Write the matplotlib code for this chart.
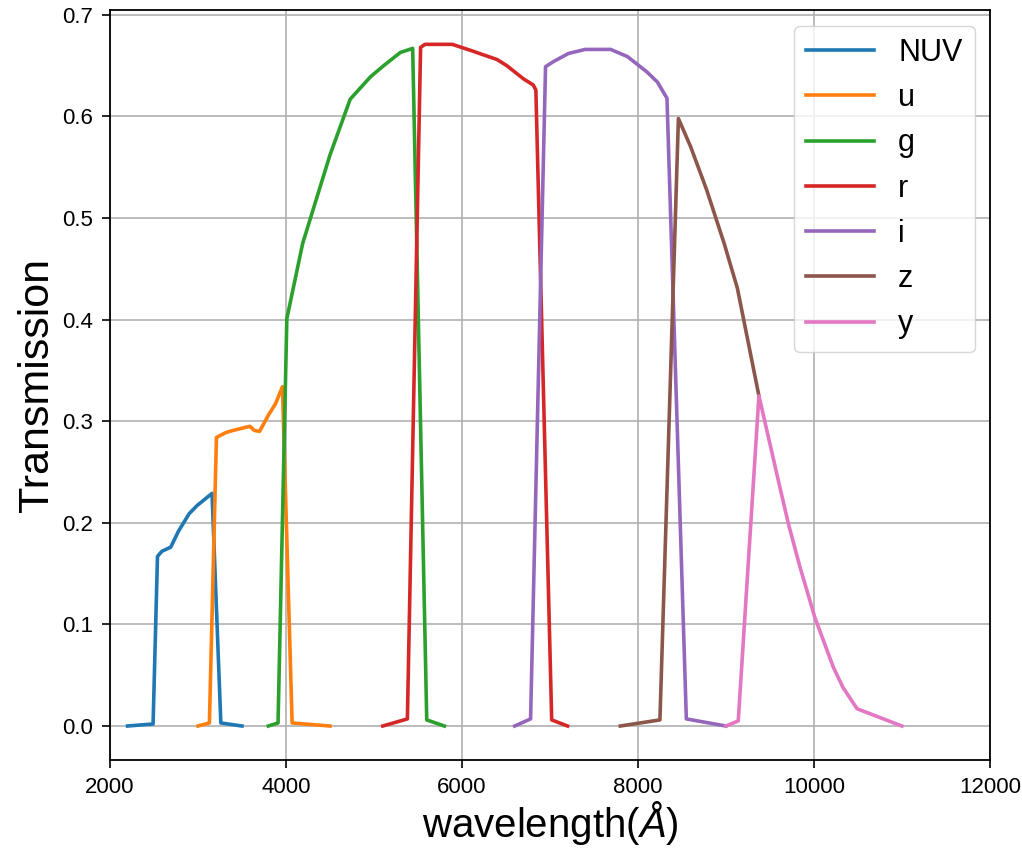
import matplotlib
matplotlib.use('Agg')
import matplotlib.pyplot as plt

plt.rcParams['font.family'] = ['Liberation Sans', 'DejaVu Sans']
plt.rcParams['mathtext.fontset'] = 'custom'
plt.rcParams['mathtext.it'] = 'Liberation Sans:italic'
plt.rcParams['mathtext.rm'] = 'Liberation Sans'

# filter transmission curves
nuv_wl = [2200, 2490, 2540, 2590, 2690, 2780, 2900, 2990, 3160, 3260, 3500]
nuv_tr = [0.0, 0.002, 0.167, 0.172, 0.176, 0.192, 0.209, 0.217, 0.229, 0.003, 0.0]

u_wl = [3000, 3130, 3210, 3320, 3400, 3590, 3640, 3700, 3800, 3880, 3960, 4070, 4500]
u_tr = [0.0, 0.003, 0.284, 0.289, 0.291, 0.295, 0.291, 0.290, 0.306, 0.317, 0.334, 0.003, 0.0]

g_wl = [3800, 3910, 4010, 4190, 4500, 4730, 4960, 5110, 5300, 5440, 5600, 5800]
g_tr = [0.0, 0.003, 0.401, 0.475, 0.562, 0.617, 0.639, 0.650, 0.663, 0.667, 0.006, 0.0]

r_wl = [5100, 5380, 5530, 5580, 5890, 6100, 6400, 6510, 6700, 6810, 6840, 7020, 7200]
r_tr = [0.0, 0.007, 0.668, 0.671, 0.671, 0.665, 0.656, 0.650, 0.637, 0.631, 0.626, 0.006, 0.0]

i_wl = [6600, 6780, 6950, 7040, 7210, 7400, 7690, 7880, 8100, 8220, 8330, 8550, 9000]
i_tr = [0.0, 0.007, 0.649, 0.654, 0.662, 0.666, 0.666, 0.659, 0.644, 0.634, 0.618, 0.007, 0.0]

z_wl = [7800, 8250, 8460, 8600, 8780, 8980, 9130, 9375]
z_tr = [0.0, 0.006, 0.598, 0.570, 0.528, 0.475, 0.431, 0.325]

y_wl = [9000, 9140, 9375, 9600, 9710, 9840, 10010, 10220, 10330, 10490, 11000]
y_tr = [0.0, 0.005, 0.325, 0.240, 0.199, 0.157, 0.107, 0.058, 0.038, 0.017, 0.0]

bands = [('NUV', nuv_wl, nuv_tr), ('u', u_wl, u_tr), ('g', g_wl, g_tr),
         ('r', r_wl, r_tr), ('i', i_wl, i_tr), ('z', z_wl, z_tr), ('y', y_wl, y_tr)]

fig = plt.figure(figsize=(10.22, 8.55), dpi=100)
ax = fig.add_axes([0.1076, 0.111, 0.861, 0.877])

for name, wl, tr in bands:
    ax.plot(wl, tr, lw=2.6, label=name)

ax.set_xlim(2000, 12000)
ax.grid(True, color='#b0b0b0', lw=1.2)
ax.tick_params(labelsize=16, length=6, width=1.2, pad=6)
for sp in ax.spines.values():
    sp.set_linewidth(1.3)
ax.set_xlabel(r'wavelength($\AA$)', fontsize=29, labelpad=1)
ax.set_ylabel('Transmission', fontsize=31)
ax.legend(loc='upper right', fontsize=22, handlelength=2.2)

fig.savefig('out.png', dpi=100)
